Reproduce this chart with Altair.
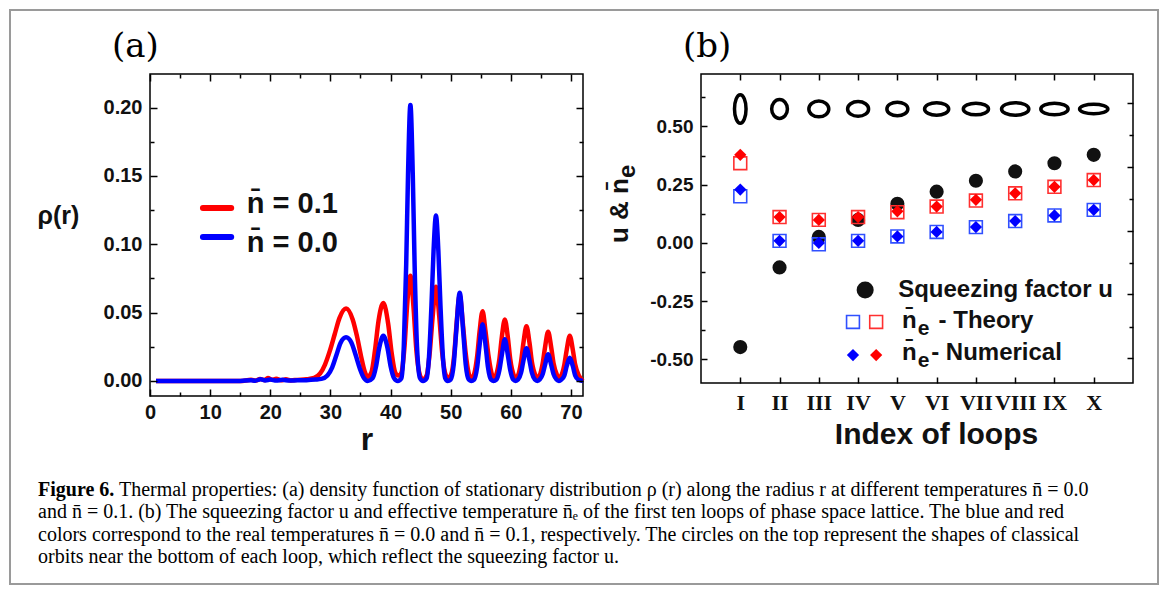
import altair as alt
import pandas as pd

# ---------------- Panel (a): density function rho(r) ----------------
r_red = [1.0, 8.0, 15.0, 16.8, 17.6, 18.3, 19.0, 19.6, 20.3, 21.0, 21.8, 22.6, 23.4, 24.5, 26.0, 27.3,
         28.3, 29.1, 29.9, 30.7, 31.5, 32.6, 33.7, 34.4, 35.1, 35.7, 36.2,
         36.8, 37.4, 38.0, 38.8, 39.6, 40.2, 40.8, 41.3,
         41.8, 42.3, 42.8, 43.3, 43.8, 44.3, 44.9, 45.4,
         46.0, 46.5, 47.0, 47.55, 48.1, 48.6, 49.2, 49.6,
         50.1, 50.6, 51.0, 51.5, 52.0, 52.5, 53.1, 53.5,
         53.9, 54.4, 54.8, 55.3, 55.8, 56.3, 56.9, 57.2,
         57.6, 58.1, 58.5, 59.0, 59.5, 59.9, 60.5, 60.8,
         61.2, 61.7, 62.1, 62.6, 63.1, 63.5, 64.1, 64.4,
         64.8, 65.3, 65.7, 66.2, 66.7, 67.1, 67.7, 68.0,
         68.4, 68.9, 69.3, 69.8, 70.3, 70.7, 71.3, 72.0]
rho_red = [0.0, 0.0, 0.0, 0.0008, 0.0003, 0.0015, 0.0006, 0.0022, 0.0008, 0.0016, 0.0005, 0.0012, 0.0004, 0.0008, 0.0012, 0.0022,
           0.0055, 0.012, 0.022, 0.034, 0.046, 0.053, 0.045, 0.033, 0.018, 0.007, 0.003,
           0.006, 0.022, 0.044, 0.057, 0.042, 0.020, 0.006, 0.004,
           0.006, 0.024, 0.058, 0.077, 0.055, 0.022, 0.004, 0.001,
           0.004, 0.020, 0.047, 0.069, 0.047, 0.020, 0.004, 0.002,
           0.005, 0.020, 0.043, 0.063, 0.043, 0.020, 0.004, 0.002,
           0.005, 0.018, 0.036, 0.051, 0.036, 0.018, 0.004, 0.002,
           0.005, 0.016, 0.032, 0.045, 0.032, 0.016, 0.004, 0.002,
           0.004, 0.014, 0.028, 0.040, 0.028, 0.014, 0.004, 0.002,
           0.004, 0.013, 0.025, 0.036, 0.025, 0.013, 0.004, 0.002,
           0.004, 0.012, 0.023, 0.033, 0.023, 0.012, 0.004, 0.0]

r_blue = [1.0, 8.0, 15.0, 16.8, 17.5, 18.4, 19.2, 20.0, 21.0, 22.0, 23.2, 24.5, 26.0, 27.5,
          28.5, 29.5, 30.3, 31.0, 31.7, 32.6, 33.5, 34.2, 34.9, 35.6, 36.2,
          37.0, 37.6, 38.1, 38.8, 39.5, 40.0, 40.6, 41.2,
          41.8, 42.2, 42.6, 42.9, 43.3, 43.7, 44.0, 44.4, 44.9, 45.4,
          46.0, 46.4, 46.8, 47.15, 47.55, 47.95, 48.3, 48.7, 49.1, 49.5,
          50.0, 50.5, 50.9, 51.5, 52.1, 52.5, 53.0, 53.4,
          53.9, 54.4, 54.8, 55.3, 55.8, 56.2, 56.7, 57.1,
          57.6, 58.1, 58.5, 59.0, 59.5, 59.9, 60.4, 60.8,
          61.2, 61.7, 62.1, 62.6, 63.1, 63.5, 64.0, 64.4,
          64.8, 65.3, 65.7, 66.2, 66.7, 67.1, 67.6, 68.0,
          68.4, 68.9, 69.3, 69.8, 70.3, 70.7, 71.2, 72.0]
rho_blue = [0.0, 0.0, 0.0, 0.0006, 0.0002, 0.0012, 0.0004, 0.0010, 0.0003, 0.0008, 0.0003, 0.0005, 0.0006, 0.0010,
            0.0015, 0.004, 0.010, 0.019, 0.028, 0.032, 0.028, 0.019, 0.009, 0.002, 0.0,
            0.002, 0.011, 0.024, 0.033, 0.024, 0.011, 0.002, 0.0,
            0.002, 0.025, 0.085, 0.150, 0.202, 0.150, 0.085, 0.025, 0.002, 0.0,
            0.002, 0.018, 0.055, 0.095, 0.121, 0.095, 0.055, 0.018, 0.002, 0.0,
            0.001, 0.012, 0.035, 0.0646, 0.035, 0.012, 0.001, 0.0,
            0.001, 0.010, 0.026, 0.0415, 0.026, 0.010, 0.001, 0.0,
            0.001, 0.008, 0.019, 0.0305, 0.019, 0.008, 0.001, 0.0,
            0.001, 0.006, 0.015, 0.024, 0.015, 0.006, 0.001, 0.0,
            0.001, 0.005, 0.012, 0.0195, 0.012, 0.005, 0.001, 0.0,
            0.001, 0.004, 0.011, 0.017, 0.011, 0.004, 0.001, 0.0]

legend_a_labels = ["n\u0304 = 0.1", "n\u0304 = 0.0"]
legend_a_colors = ["#ff0000", "#0000ff"]

a_major_x = [0, 10, 20, 30, 40, 50, 60, 70]
a_minor_x = [5, 15, 25, 35, 45, 55, 65]
a_major_y = [0.0, 0.05, 0.10, 0.15, 0.20]
a_minor_y = [0.025, 0.075, 0.125, 0.175]

# ---------------- Panel (b): squeezing factor and effective temperature ----------------
loops = ["I", "II", "III", "IV", "V", "VI", "VII", "VIII", "IX", "X"]
loop_pos = [1, 2, 3, 4, 5, 6, 7, 8, 9, 10]
u_vals = [-0.447, -0.105, 0.026, 0.099, 0.168, 0.220, 0.267, 0.307, 0.342, 0.378]
ne_theory_red = [0.342, 0.111, 0.099, 0.111, 0.132, 0.156, 0.182, 0.213, 0.241, 0.270]
ne_num_red = [0.378, 0.111, 0.099, 0.111, 0.136, 0.156, 0.185, 0.213, 0.241, 0.270]
ne_theory_blue = [0.200, 0.009, -0.006, 0.009, 0.028, 0.047, 0.068, 0.094, 0.118, 0.142]
ne_num_blue = [0.229, 0.009, 0.000, 0.009, 0.028, 0.047, 0.068, 0.094, 0.118, 0.142]
# classical orbit shapes (relative horizontal / vertical semi-axes)
orbit_level = 0.575
orbit_a = [5.5, 7.5, 9.5, 10.0, 10.0, 11.5, 12.0, 13.0, 13.0, 13.5]
orbit_b = [13.5, 9.0, 7.5, 7.0, 6.5, 6.0, 5.5, 6.0, 5.5, 4.5]

b_major_y = [-0.50, -0.25, 0.0, 0.25, 0.50]
b_minor_y = [-0.375, -0.125, 0.125, 0.375, 0.625]
b_right_major = [0.601, 0.326, 0.052, -0.220, -0.495]
b_right_minor = [0.462, 0.188, -0.085, -0.360]

caption_label = "Figure 6."
caption_lines = [
    "Thermal properties: (a) density function of stationary distribution \u03c1 (r) along the radius r at different temperatures n\u0304 = 0.0",
    "and n\u0304 = 0.1. (b) The squeezing factor u and effective temperature n\u0304\u2091 of the first ten loops of phase space lattice. The blue and red",
    "colors correspond to the real temperatures n\u0304 = 0.0 and n\u0304 = 0.1, respectively. The circles on the top represent the shapes of classical",
    "orbits near the bottom of each loop, which reflect the squeezing factor u.",
]

SANS = "Liberation Sans"
SERIF = "Liberation Serif"


def tsize(v):
    return alt.ExprRef(expr=str(v))


def axis(**kw):
    base = dict(grid=False, domain=False, tickColor="black", tickWidth=1.5,
                labelFlush=False, labelOverlap=False, zindex=1)
    base.update(kw)
    return alt.Axis(**base)


def ticks_only(orient, values, size):
    return axis(orient=orient, values=values, tickSize=tsize(size), labels=False, title=None)


def panel_label(text, px, py):
    return alt.Chart(pd.DataFrame({"t": [text]})).mark_text(
        align="left", baseline="alphabetic", font="DejaVu Serif", fontSize=34, color="black"
    ).encode(x=alt.value(px), y=alt.value(py), text="t:N")


# ================= Panel (a) =================
df_red = pd.DataFrame({"r": r_red, "rho": rho_red})
df_blue = pd.DataFrame({"r": r_blue, "rho": rho_blue})
xa = alt.Scale(domain=[0, 72], nice=False, zero=False)
ya = alt.Scale(domain=[-0.011, 0.2246], nice=False, zero=False)

lab_a = dict(labelFont=SANS, labelFontWeight="bold", labelFontSize=20, labelColor="#111")

red_line = alt.Chart(df_red).mark_line(color="#ff0000", strokeWidth=4.5, interpolate="monotone").encode(
    x=alt.X("r:Q", scale=xa, axis=axis(orient="bottom", values=a_major_x, tickSize=tsize(-7),
                                       labelPadding=13, format="d", title="r", titleFont=SANS,
                                       titleFontSize=32, titleFontWeight="bold", titleColor="#111",
                                       titleX=216.5, titleY=53, titleAlign="center",
                                       titleBaseline="alphabetic", titleAngle=0, **lab_a)),
    y=alt.Y("rho:Q", scale=ya, axis=axis(orient="left", values=a_major_y, tickSize=tsize(-7),
                                         labelPadding=15, format=".2f", title="\u03c1(r)", titleFont=SANS,
                                         titleFontSize=25, titleFontWeight="bold", titleColor="#111",
                                         titleX=-92, titleY=149, titleAlign="center",
                                         titleBaseline="alphabetic", titleAngle=0, **lab_a)),
)
blue_line = alt.Chart(df_blue).mark_line(color="#0000ff", strokeWidth=4.5, interpolate="monotone").encode(
    x=alt.X("r:Q", scale=xa, axis=None),
    y=alt.Y("rho:Q", scale=ya, axis=None),
)
a_minor = alt.Chart(df_red).mark_point(opacity=0).encode(
    x=alt.X("r:Q", scale=xa, axis=ticks_only("bottom", a_minor_x, -4)),
    y=alt.Y("rho:Q", scale=ya, axis=ticks_only("left", a_minor_y, -4)),
)
a_top = alt.Chart(df_red).mark_point(opacity=0).encode(
    x=alt.X("r:Q", scale=xa, axis=ticks_only("top", a_major_x, -7)),
    y=alt.Y("rho:Q", scale=ya, axis=ticks_only("right", a_major_y, -7)),
)
a_top_minor = alt.Chart(df_red).mark_point(opacity=0).encode(
    x=alt.X("r:Q", scale=xa, axis=ticks_only("top", a_minor_x, -4)),
    y=alt.Y("rho:Q", scale=ya, axis=ticks_only("right", a_minor_y, -4)),
)

leg_a = pd.DataFrame({
    "label": legend_a_labels,
    "color": legend_a_colors,
    "x0": [8.8, 8.8], "x1": [13.5, 13.5],
    "ly": [0.1266, 0.1053],
    "tx": [16.1, 16.1],
    "ty": [0.1229, 0.0944],
})
leg_a_rules = alt.Chart(leg_a).mark_rule(strokeWidth=6, strokeCap="round").encode(
    x=alt.X("x0:Q", scale=xa, axis=None), x2="x1:Q",
    y=alt.Y("ly:Q", scale=ya, axis=None),
    color=alt.Color("color:N", scale=None),
)
leg_a_text = alt.Chart(leg_a).mark_text(align="left", baseline="alphabetic", font=SANS,
                                         fontWeight="bold", fontSize=29, color="#111").encode(
    x=alt.X("tx:Q", scale=xa, axis=None),
    y=alt.Y("ty:Q", scale=ya, axis=None),
    text="label:N",
)

panel_a = alt.layer(red_line, blue_line, a_minor, a_top, a_top_minor, leg_a_rules, leg_a_text,
                    panel_label("(a)", -38, -17)).resolve_axis(
    x="independent", y="independent"
).properties(
    width=433, height=322,
    view=alt.ViewBackground(stroke="black", strokeWidth=1.5),
)

# ================= Panel (b) =================
ORBIT_SCALE = 1.05


def ellipse_path(a, b, k=0.5523):
    a, b = a * ORBIT_SCALE, b * ORBIT_SCALE
    return (f"M {a} 0 C {a} {k*b} {k*a} {b} 0 {b} C {-k*a} {b} {-a} {k*b} {-a} 0 "
            f"C {-a} {-k*b} {-k*a} {-b} 0 {-b} C {k*a} {-b} {a} {-k*b} {a} 0 Z")


df_b = pd.DataFrame({
    "pos": loop_pos, "loop": loops, "u": u_vals,
    "tr": ne_theory_red, "nr": ne_num_red, "tb": ne_theory_blue, "nb": ne_num_blue,
    "orbit_y": [orbit_level] * len(loops),
    "path": [ellipse_path(a, b) for a, b in zip(orbit_a, orbit_b)],
})
xb = alt.Scale(domain=[0, 11], nice=False, zero=False)
yb = alt.Scale(domain=[-0.601, 0.725], nice=False, zero=False)

roman_expr = "[" + ",".join(['""'] + ['"%s"' % s for s in loops]) + "][datum.value]"

circles = alt.Chart(df_b).mark_point(shape="circle", filled=True, size=200, color="#111", opacity=1).encode(
    x=alt.X("pos:Q", scale=xb, axis=axis(orient="bottom", values=loop_pos, tickSize=tsize(-6),
                                         labelPadding=15, labelExpr=roman_expr, labelFont=SERIF,
                                         labelFontWeight="bold", labelFontSize=22, labelColor="#111",
                                         title="Index of loops", titleFont=SANS, titleFontSize=30,
                                         titleFontWeight="bold", titleColor="#111", titleX=235, titleY=60,
                                         titleAlign="center", titleBaseline="alphabetic", titleAngle=0)),
    y=alt.Y("u:Q", scale=yb, axis=axis(orient="left", values=b_major_y, tickSize=tsize(-6),
                                       labelPadding=14,
                                       labelExpr="replace(format(datum.value, '.2f'), '\u2212', '-')",
                                       labelFont=SANS, labelFontWeight="bold", labelFontSize=19,
                                       labelColor="#111", title=None)),
)
sq_red = alt.Chart(df_b).mark_point(shape="square", filled=False, size=165, strokeWidth=1.6,
                                     color="#ff3030", opacity=1).encode(
    x=alt.X("pos:Q", scale=xb, axis=ticks_only("top", loop_pos, -6)),
    y=alt.Y("tr:Q", scale=yb, axis=ticks_only("left", b_minor_y, -4)),
)
sq_blue = alt.Chart(df_b).mark_point(shape="square", filled=False, size=165, strokeWidth=1.6,
                                      color="#3050ff", opacity=1).encode(
    x=alt.X("pos:Q", scale=xb, axis=None),
    y=alt.Y("tb:Q", scale=yb, axis=ticks_only("right", b_right_major, -6)),
)
di_red = alt.Chart(df_b).mark_point(shape="diamond", filled=True, size=150, color="#ff0000", opacity=1).encode(
    x=alt.X("pos:Q", scale=xb, axis=None),
    y=alt.Y("nr:Q", scale=yb, axis=ticks_only("right", b_right_minor, -4)),
)
di_blue = alt.Chart(df_b).mark_point(shape="diamond", filled=True, size=150, color="#0000ff", opacity=1).encode(
    x=alt.X("pos:Q", scale=xb, axis=None),
    y=alt.Y("nb:Q", scale=yb, axis=None),
)
orbits = alt.Chart(df_b).mark_point(filled=False, size=4, stroke="black", strokeWidth=3.5, opacity=1).encode(
    x=alt.X("pos:Q", scale=xb, axis=None),
    y=alt.Y("orbit_y:Q", scale=yb, axis=None),
    shape=alt.Shape("path:N", scale=None),
)

# legend of panel (b)
leg_circle = alt.Chart(pd.DataFrame({"x": [4.18], "y": [-0.202]})).mark_point(
    shape="circle", filled=True, size=290, color="#111", opacity=1).encode(
    x=alt.X("x:Q", scale=xb, axis=None), y=alt.Y("y:Q", scale=yb, axis=None))
leg_sq = alt.Chart(pd.DataFrame({"x": [3.87, 4.46], "y": [-0.339, -0.339], "c": ["#3050ff", "#ff3030"]})).mark_point(
    shape="square", filled=False, size=165, strokeWidth=1.6, opacity=1).encode(
    x=alt.X("x:Q", scale=xb, axis=None), y=alt.Y("y:Q", scale=yb, axis=None),
    color=alt.Color("c:N", scale=None))
leg_di = alt.Chart(pd.DataFrame({"x": [3.87, 4.46], "y": [-0.481, -0.481], "c": ["#0000ff", "#ff0000"]})).mark_point(
    shape="diamond", filled=True, size=150, opacity=1).encode(
    x=alt.X("x:Q", scale=xb, axis=None), y=alt.Y("y:Q", scale=yb, axis=None),
    color=alt.Color("c:N", scale=None))
leg_b_main = pd.DataFrame({
    "t": ["Squeezing  factor u", "n\u0304", "- Theory", "n\u0304", "- Numerical"],
    "x": [5.02, 5.12, 6.05, 5.12, 5.86],
    "y": [-0.232, -0.365, -0.365, -0.502, -0.502],
})
leg_b_text = alt.Chart(leg_b_main).mark_text(align="left", baseline="alphabetic", font=SANS,
                                             fontWeight="bold", fontSize=24, color="#111").encode(
    x=alt.X("x:Q", scale=xb, axis=None), y=alt.Y("y:Q", scale=yb, axis=None), text="t:N")
leg_b_sub = pd.DataFrame({"t": ["e", "e"], "x": [5.52, 5.52], "y": [-0.395, -0.532]})
leg_b_subtext = alt.Chart(leg_b_sub).mark_text(align="left", baseline="alphabetic", font=SANS,
                                               fontWeight="bold", fontSize=21, color="#111").encode(
    x=alt.X("x:Q", scale=xb, axis=None), y=alt.Y("y:Q", scale=yb, axis=None), text="t:N")

# y title of panel (b): "u & n̄" with subscript e
ytitle_main = alt.Chart(pd.DataFrame({"t": ["u & n\u0304"]})).mark_text(
    align="left", baseline="alphabetic", angle=270, font=SANS, fontWeight="bold", fontSize=26,
    color="#111").encode(x=alt.value(-73), y=alt.value(169), text="t:N")
ytitle_sub = alt.Chart(pd.DataFrame({"t": ["e"]})).mark_text(
    align="left", baseline="alphabetic", angle=270, font=SANS, fontWeight="bold", fontSize=24,
    color="#111").encode(x=alt.value(-66), y=alt.value(104), text="t:N")

panel_b = alt.layer(circles, sq_red, sq_blue, di_red, di_blue, orbits,
                    leg_circle, leg_sq, leg_di, leg_b_text, leg_b_subtext, ytitle_main, ytitle_sub,
                    panel_label("(b)", -18, -17)).resolve_axis(
    x="independent", y="independent"
).properties(
    width=432, height=309,
    view=alt.ViewBackground(stroke="black", strokeWidth=1.5),
)

# ================= Caption with frame =================
one = pd.DataFrame({"t": [0]})
frame = alt.Chart(one).mark_rect(fill="white", fillOpacity=0, stroke="#9a9a9a", strokeWidth=2).encode(
    x=alt.value(-140), x2=alt.value(1008), y=alt.value(-460), y2=alt.value(114))

CAP_SIZE = 20
cap_layers = [frame]
cap_layers.append(alt.Chart(pd.DataFrame({"t": [caption_label]})).mark_text(
    align="left", baseline="alphabetic", font=SERIF, fontWeight="bold", fontSize=CAP_SIZE, color="black").encode(
    x=alt.value(-112), y=alt.value(26), text="t:N"))
line_x = [-31, -112, -112, -112]
line_y = [26, 48, 71, 93]
for txt, lx, ly in zip(caption_lines, line_x, line_y):
    cap_layers.append(alt.Chart(pd.DataFrame({"t": [txt]})).mark_text(
        align="left", baseline="alphabetic", font=SERIF, fontSize=CAP_SIZE, color="black").encode(
        x=alt.value(lx), y=alt.value(ly), text="t:N"))

caption = alt.layer(*cap_layers).properties(
    width=433, height=60, view=alt.ViewBackground(stroke="transparent"))

chart = alt.concat(panel_a, panel_b, caption, columns=2, spacing={"row": 74, "column": 118},
                   bounds="flush", align="each").properties(
    padding=0, background="white"
).configure_view(stroke="transparent")

chart.save("out.html", embed_options={"renderer": "svg", "actions": False})
